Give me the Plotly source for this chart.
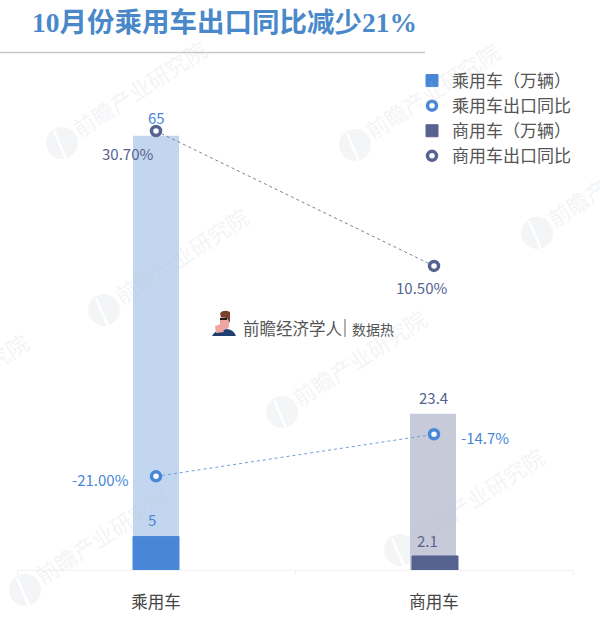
import base64
import plotly.graph_objects as go

categories = ["乘用车", "商用车"]
total_volume = [65, 23.4]
october_volume = [5, 2.1]
passenger_yoy = [-21.0, -14.7]
commercial_yoy = [30.7, 10.5]
passenger_yoy_labels = ["-21.00%", "-14.7%"]
commercial_yoy_labels = ["30.70%", "10.50%"]
title_text = "10月份乘用车出口同比减少21%"
watermark_text = "前瞻产业研究院"
brand_text = "前瞻经济学人"
brand_sub = "数据热"

W, H = 600, 626
L, R, T, B = 17, 27, 70, 56
PW = W - L - R
PH = H - T - B
SCALE = 6.68
BLUE, BLUE_L = "#4887d8", "#c3d6ef"
NAVY, NAVY_L = "#566390", "#c6cad9"
FONT = "Noto Sans CJK SC"


def px(x):
    return (x - L) / PW


def py(y):
    return 1 - (y - T) / PH


fig = go.Figure()
bw = 46 / 278
fig.add_bar(x=categories, y=total_volume, width=bw, offset=[-bw / 2, -24 / 278],
            marker=dict(color=[BLUE_L, NAVY_L], line_width=0), showlegend=False, hoverinfo="skip")
fig.add_bar(x=categories[:1], y=october_volume[:1], width=bw, offset=-bw / 2,
            marker=dict(color=BLUE, line=dict(color=BLUE, width=1)), name="乘用车（万辆）", legendgroup="a")
fig.add_scatter(x=categories, y=passenger_yoy, yaxis="y2", mode="lines",
                line=dict(color="#6f9fd8", width=1, dash="dot"), showlegend=False, hoverinfo="skip")
fig.add_scatter(x=categories, y=passenger_yoy, yaxis="y2", mode="markers", name="乘用车出口同比", legendgroup="b",
                marker=dict(size=9, color="white", line=dict(color=BLUE, width=3.5)))
fig.add_bar(x=categories[1:], y=october_volume[1:], width=bw, offset=-22 / 278,
            marker=dict(color=NAVY, line=dict(color=NAVY, width=1)), name="商用车（万辆）", legendgroup="c")
fig.add_scatter(x=categories, y=commercial_yoy, yaxis="y2", mode="lines",
                line=dict(color="#7c8098", width=1, dash="dot"), showlegend=False, hoverinfo="skip")
fig.add_scatter(x=categories, y=commercial_yoy, yaxis="y2", mode="markers", name="商用车出口同比", legendgroup="d",
                marker=dict(size=9, color="white", line=dict(color=NAVY, width=3.5)))


def label(cat, val, text, color, xs, ys, yref="y"):
    fig.add_annotation(x=cat, y=val, yref=yref, text=text, showarrow=False, xshift=xs, yshift=ys,
                       font=dict(size=15, color=color, family=FONT))


label(categories[0], total_volume[0], str(total_volume[0]), BLUE, 0, 18)
label(categories[1], total_volume[1], str(total_volume[1]), NAVY, -1, 16)
label(categories[0], october_volume[0], str(october_volume[0]), BLUE, -4, 17)
label(categories[1], october_volume[1], str(october_volume[1]), NAVY, -7, 15)
label(categories[0], passenger_yoy[0], passenger_yoy_labels[0], BLUE, -56, -3, "y2")
label(categories[1], passenger_yoy[1], passenger_yoy_labels[1], BLUE, 51, -3, "y2")
label(categories[0], commercial_yoy[0], commercial_yoy_labels[0], NAVY, -29, -22, "y2")
label(categories[1], commercial_yoy[1], commercial_yoy_labels[1], NAVY, -13, -22, "y2")

# faint diagonal watermarks: logo centre, with the text up and to the right of it
marks = [(62, 143), (355, 145), (537, 233), (104, 310), (282, 412), (400, 550), (25, 590), (-116, 436)]
for lx, ly in marks:
    fig.add_annotation(xref="paper", yref="paper", x=px(lx + 77), y=py(ly - 55), xanchor="center", yanchor="middle",
                       text=watermark_text, showarrow=False, textangle=-33,
                       font=dict(size=22, color="rgba(190,197,210,0.2)", family=FONT))
    fig.add_shape(type="circle", xref="paper", yref="paper", layer="below", line_width=0,
                  fillcolor="rgba(190,197,210,0.17)",
                  x0=px(lx - 16), x1=px(lx + 16), y0=py(ly + 16), y1=py(ly - 16))
    fig.add_shape(type="line", xref="paper", yref="paper", layer="below", line=dict(color="white", width=2.5),
                  x0=px(lx - 8), x1=px(lx + 4), y0=py(ly - 12), y1=py(ly + 16))

# title and rule
fig.add_annotation(xref="paper", yref="paper", x=px(30), y=py(23), xanchor="left", yanchor="middle",
                   text=f"<b>{title_text}</b>", showarrow=False,
                   font=dict(size=27.5, color="#4a89c9", family="Liberation Serif, " + FONT))
fig.add_shape(type="line", xref="paper", yref="paper", x0=px(0), x1=px(425), y0=py(52.5), y1=py(52.5),
              line=dict(color="#c9c9c9", width=1.5))

# brand mark
svg = ("<svg xmlns='http://www.w3.org/2000/svg' viewBox='0 0 24 26'>"
       "<path d='M0 26 Q3 20 10 20 L15 19 Q22 20 24 26Z' fill='#1f3f73'/>"
       "<rect x='8' y='6' width='9' height='13' rx='3' fill='#f0a6a0'/>"
       "<path d='M8 3 Q12 -1 18 2 L18 13 L15 8 L9 7Z' fill='#7a4030'/>"
       "<rect x='8' y='8' width='7' height='2' fill='#222'/>"
       "<path d='M3 16 L9 14 L12 22 L4 23Z' fill='#f0a6a0'/></svg>")
fig.add_layout_image(source="data:image/svg+xml;base64," + base64.b64encode(svg.encode()).decode(),
                     xref="paper", yref="paper", x=px(212), y=py(310), sizex=24 / PW, sizey=26 / PH,
                     xanchor="left", yanchor="top", sizing="contain", layer="above")
fig.add_annotation(xref="paper", yref="paper", x=px(241), y=py(328), xanchor="left", yanchor="middle",
                   text=brand_text, showarrow=False, font=dict(size=16.5, color="#555555", family=FONT))
fig.add_shape(type="line", xref="paper", yref="paper", x0=px(345), x1=px(345), y0=py(319), y1=py(337),
              line=dict(color="#666666", width=1))
fig.add_annotation(xref="paper", yref="paper", x=px(350), y=py(329), xanchor="left", yanchor="middle",
                   text=brand_sub, showarrow=False, font=dict(size=14, color="#555555", family=FONT))

y2_min = -(H - B - (131 + 30.7 * SCALE)) / SCALE
fig.update_layout(
    width=W, height=H, margin=dict(l=L, r=R, t=T, b=B, pad=0), autosize=False,
    plot_bgcolor="white", paper_bgcolor="white", barmode="overlay", hovermode=False,
    font=dict(family=FONT, color="#555555"),
    xaxis=dict(type="category", range=[-0.5, 1.5], tickson="boundaries", ticks="outside", ticklen=4,
               tickcolor="#efefef", linecolor="#f2f2f2", linewidth=1, showgrid=False, ticklabelstandoff=17,
               tickfont=dict(size=16.5, color="#444444", family=FONT)),
    yaxis=dict(range=[0, PH / SCALE], visible=False, showgrid=False, zeroline=False),
    yaxis2=dict(range=[y2_min, y2_min + PH / SCALE], overlaying="y", visible=False, showgrid=False, zeroline=False),
    legend=dict(x=px(412), y=py(63), xanchor="left", yanchor="top", bgcolor="rgba(0,0,0,0)",
                traceorder="grouped", tracegroupgap=0, font=dict(size=17, color="#555555", family=FONT)),
)
fig.write_html("out.html", config={"displayModeBar": False}, post_script="document.body.style.margin='0';")
